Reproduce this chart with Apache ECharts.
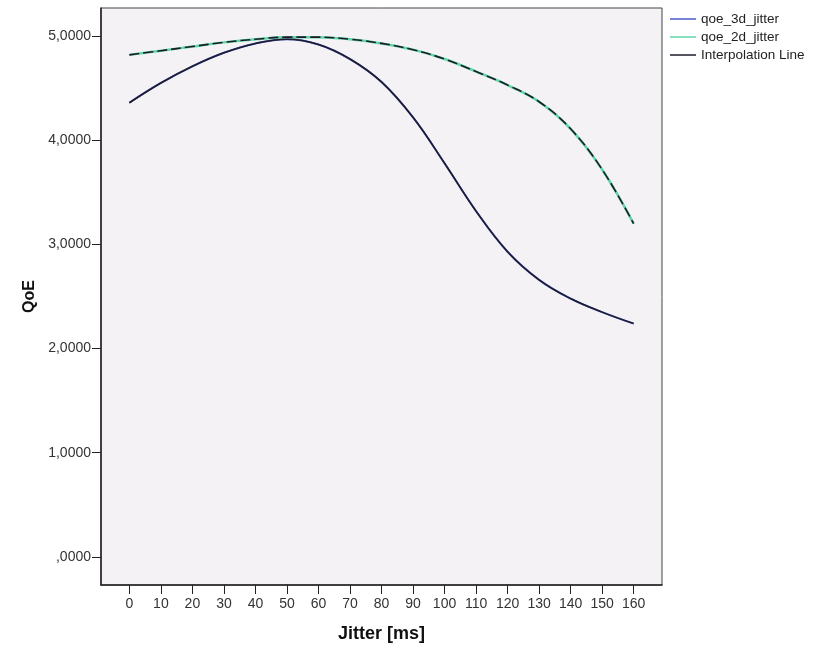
<!DOCTYPE html>
<html>
<head>
<meta charset="utf-8">
<script src="https://cdn.jsdelivr.net/npm/echarts@6/dist/echarts.min.js"></script>
<style>
  html, body { margin: 0; padding: 0; background: #fff; }
  #chart { width: 816px; height: 649px; }
</style>
</head>
<body>
<div id="chart"></div>
<script>
// jitter values (ms)
const jitter = [0, 10, 20, 30, 40, 50, 60, 70, 80, 90, 100, 110, 120, 130, 140, 150, 160]
// QoE per jitter
const qoe3d = [4.36, 4.55, 4.71, 4.84, 4.93, 4.97, 4.92, 4.78, 4.56, 4.22, 3.78, 3.32, 2.93, 2.66, 2.48, 2.35, 2.24]
const qoe2d = [4.82, 4.86, 4.90, 4.94, 4.97, 4.99, 4.99, 4.97, 4.93, 4.87, 4.78, 4.66, 4.53, 4.37, 4.11, 3.72, 3.20]
const yTicks = [0, 1, 2, 3, 4, 5]

const pairs = (ys) => jitter.map((x, i) => [x, ys[i]])
const font = 'Liberation Sans, Arial, sans-serif'

const chart = echarts.init(document.getElementById('chart'), null, {renderer: 'canvas'})

function curve (name, ys, color, lineStyle) {
  return {
    name: name,
    type: 'line',
    smooth: 0.4,
    showSymbol: false,
    data: pairs(ys),
    color: color,
    lineStyle: lineStyle
  }
}

const option = {
  animation: false,
  grid: {
    left: 101,
    top: 8,
    width: 561,
    height: 577,
    show: true,
    backgroundColor: '#f5f2f6',
    borderColor: '#444',
    borderWidth: 1
  },
  legend: {
    orient: 'vertical',
    left: 665,
    top: 7,
    itemGap: 4,
    itemWidth: 26,
    itemHeight: 1.5,
    icon: 'rect',
    textStyle: { fontFamily: font, fontSize: 13.5, color: '#222', lineHeight: 14 },
    data: ['qoe_3d_jitter', 'qoe_2d_jitter', 'Interpolation Line']
  },
  xAxis: {
    type: 'value',
    min: -9,
    max: 169,
    name: 'Jitter [ms]',
    nameLocation: 'middle',
    nameGap: 40,
    nameTextStyle: { fontFamily: font, fontSize: 18, fontWeight: 'bold', color: '#111' },
    axisLine: { show: true, onZero: false, lineStyle: { color: '#222', width: 1.5 } },
    axisTick: { show: true, customValues: jitter, length: 9, lineStyle: { color: '#222' } },
    axisLabel: { customValues: jitter, fontFamily: font, fontSize: 14, color: '#333', margin: 12 },
    splitLine: { show: false }
  },
  yAxis: {
    type: 'value',
    min: -0.27,
    max: 5.27,
    name: 'QoE',
    nameLocation: 'middle',
    nameGap: 55,
    nameRotate: 90,
    nameTextStyle: { fontFamily: font, fontSize: 16, fontWeight: 'bold', color: '#111' },
    axisLine: { show: true, onZero: false, lineStyle: { color: '#222', width: 1.5 } },
    axisTick: { show: true, customValues: yTicks, length: 9, lineStyle: { color: '#222' } },
    axisLabel: {
      customValues: yTicks,
      fontFamily: font,
      fontSize: 14,
      color: '#333',
      margin: 10,
      formatter: (v) => (v === 0 ? '' : String(v)) + ',0000'
    },
    splitLine: { show: false }
  },
  series: [
    curve('qoe_3d_jitter', qoe3d, '#4a5ac8', { width: 2 }),
    curve('qoe_2d_jitter', qoe2d, '#5fd6a6', { width: 2.5 }),
    // the interpolation line sits on top of both measured curves
    curve('Interpolation Line', qoe3d, '#1e1c2a', { width: 1.6 }),
    curve('Interpolation Line', qoe2d, '#1e1c2a', { width: 1.6, type: [10, 4] })
  ]
}
chart.setOption(option)
</script>
</body>
</html>
